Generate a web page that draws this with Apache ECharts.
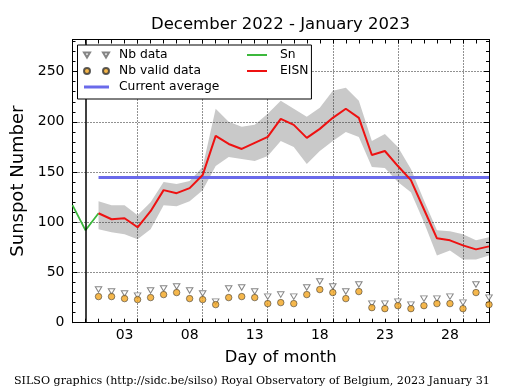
<!DOCTYPE html>
<html><head><meta charset="utf-8">
<script src="https://cdn.jsdelivr.net/npm/echarts@6/dist/echarts.min.js"></script>
<style>html,body{margin:0;padding:0;background:#fff}#c{width:515px;height:390px}</style>
</head><body><div id="c"></div>
<script>
// ---- data ----
const days = [1,2,3,4,5,6,7,8,9,10,11,12,13,14,15,16,17,18,19,20,21,22,23,24,25,26,27,28,29,30,31];
const eisn = [109,103,104,95,111,132,129,134,147,186,178,173,179,185,203,197,184,193,204,213,204,167,171,156,142,113,84,82,77,73,76];
const bandHigh = [121,117,117,107,120,140,138,141,155,213,200,195,197,208,221,213,205,214,231,234,221,181,188,175,153,122,92,91,88,82,85];
const bandLow = [93,90,88,83,93,117,116,121,132,156,165,163,161,166,181,175,158,171,181,190,185,155,154,140,130,100,67,72,63,63,67];
const nbData = [33,31,29,27,32,34,36,32,29,21,34,35,31,26,28,26,35,41,36,31,38,19,19,21,18,24,24,26,20,38,25];
const nbValid = [26,26,24,23,25,28,30,24,23,18,25,26,25,19,20,19,28,33,30,24,31,15,14,17,14,17,19,19,14,30,18];
const snDays = [-1,0,1];
const snValues = [117,92,109];
const avgDays = [1,31];
const avgValue = 144.5;
const monthBoundary = 0;
const xTickDays = [3,8,13,18,23,28];
const xTickLabels = ['03','08','13','18','23','28'];
const yTickLabels = ['0','50','100','150','200','250'];
const xMin = -1, xMax = 31, yMin = 0, yMax = 282;

// ---- styling helpers ----
const FONT = 'DejaVu Sans';
const xSplitColors = [];
for (let d = xMin; d <= xMax; d++) xSplitColors.push(xTickDays.indexOf(d) >= 0 ? '#222' : 'rgba(0,0,0,0)');
const triIcon = 'path://M0,0L6,0L3,5ZM19,0L25,0L22,5Z';
const circIcon = 'path://M0,3a3,3 0 1,0 6,0a3,3 0 1,0 -6,0ZM19,3a3,3 0 1,0 6,0a3,3 0 1,0 -6,0Z';
const lineIcon1 = 'path://M0,0H25V3H0Z';
const lineIcon2 = 'path://M0,0H20V2H0Z';

const chart = echarts.init(document.getElementById('c'), null, {renderer: 'canvas'});
const option = {
  animation: false,
  backgroundColor: '#fff',
  title: [
    {text: 'December 2022 - January 2023', left: 151, top: 16, padding: 0,
     textStyle: {fontFamily: FONT, fontSize: 16.5, fontWeight: 'normal', color: '#000'}},
    {text: 'SILSO graphics (http://sidc.be/silso) Royal Observatory of Belgium, 2023 January 31', left: 14, top: 375.5, padding: 0,
     textStyle: {fontFamily: 'DejaVu Serif', fontSize: 11.1, fontWeight: 'normal', color: '#000'}}
  ],
  legend: [
    {orient: 'vertical', left: 77.5, top: 45, padding: [2, 92, 4, 5.5],
     itemWidth: 25, itemHeight: 6, itemGap: 0, selectedMode: false,
     borderColor: '#000', borderWidth: 1, backgroundColor: '#fff', z: 10,
     textStyle: {fontFamily: FONT, fontSize: 12.3, color: '#000', lineHeight: 16, padding: [0,0,0,5]},
     data: [{name: 'Nb data', icon: triIcon}, {name: 'Nb valid data', icon: circIcon},
            {name: 'Current average', icon: lineIcon1, itemStyle: {color: '#6a6aea', borderWidth: 0}}]},
    {orient: 'vertical', left: 247, top: 47, padding: 0,
     itemWidth: 20, itemHeight: 6, itemGap: 0, selectedMode: false, z: 11,
     textStyle: {fontFamily: FONT, fontSize: 12.3, color: '#000', lineHeight: 16, padding: [0,0,0,8]},
     data: [{name: 'Sn', icon: lineIcon2, itemStyle: {color: '#3cb83c', borderWidth: 0}},
            {name: 'EISN', icon: lineIcon2, itemStyle: {color: '#ee1111', borderWidth: 0}}]}
  ],
  grid: {left: 72.5, right: 26, top: 39.5, bottom: 67.3, containLabel: false, outerBoundsMode: 'none'},
  xAxis: [
    {type: 'value', min: xMin, max: xMax, interval: 1, position: 'bottom', z: 1,
     axisLine: {show: true, onZero: false, lineStyle: {color: '#000', width: 1}},
     axisTick: {show: true, inside: true, length: 4, lineStyle: {color: '#000'}},
     axisLabel: {margin: 6, fontFamily: FONT, fontSize: 14, color: '#000',
       formatter: v => { const i = xTickDays.indexOf(v); return i >= 0 ? xTickLabels[i] : ''; }},
     splitLine: {show: true, showMinLine: false, showMaxLine: false, lineStyle: {color: xSplitColors, type: [1, 2], width: 1}},
     name: 'Day of month', nameLocation: 'middle', nameGap: 27.5,
     nameTextStyle: {fontFamily: FONT, fontSize: 16.4, color: '#000'}},
    {type: 'value', min: xMin, max: xMax, interval: 1, position: 'top', z: 1,
     axisLine: {show: true, onZero: false, lineStyle: {color: '#000', width: 1}},
     axisTick: {show: true, inside: true, length: 4, lineStyle: {color: '#000'}},
     axisLabel: {show: false}, splitLine: {show: false}}
  ],
  yAxis: [
    {type: 'value', min: yMin, max: yMax, interval: 50, position: 'left', z: 1,
     axisLine: {show: true, onZero: false, lineStyle: {color: '#000', width: 1}},
     axisTick: {show: true, inside: true, length: 5, lineStyle: {color: '#000'}},
     minorTick: {show: true, splitNumber: 5, length: 3, lineStyle: {color: '#000'}},
     axisLabel: {margin: 8, fontFamily: FONT, fontSize: 14, color: '#000', showMaxLabel: false,
       formatter: v => { const i = v / 50; return (Number.isInteger(i) && yTickLabels[i] !== undefined) ? yTickLabels[i] : ''; }},
     splitLine: {show: true, showMinLine: false, showMaxLine: false, lineStyle: {color: '#222', type: [1, 2], width: 1}},
     name: 'Sunspot Number', nameLocation: 'middle', nameGap: 35, nameRotate: 90,
     nameTextStyle: {fontFamily: FONT, fontSize: 18, color: '#000'}},
    {type: 'value', min: yMin, max: yMax, interval: 50, position: 'right', z: 1,
     axisLine: {show: true, onZero: false, lineStyle: {color: '#000', width: 1}},
     axisTick: {show: true, inside: true, length: 5, lineStyle: {color: '#000'}},
     minorTick: {show: true, splitNumber: 5, length: 3, lineStyle: {color: '#000'}},
     axisLabel: {show: false}, splitLine: {show: false}}
  ],
  series: [
    {name: 'band', type: 'custom', z: 0, silent: true, xAxisIndex: 0, yAxisIndex: 0,
     data: days.map((d, i) => [d, bandLow[i], bandHigh[i]]),
     encode: {x: 0, y: [1, 2]},
     renderItem: (params, api) => {
       if (params.dataIndex !== 0) return null;
       const pts = [];
       for (let i = 0; i < days.length; i++) pts.push(api.coord([days[i], bandHigh[i]]));
       for (let i = days.length - 1; i >= 0; i--) pts.push(api.coord([days[i], bandLow[i]]));
       return {type: 'polygon', shape: {points: pts}, style: {fill: '#c9c9c9', stroke: null}};
     }},
    {name: 'Current average', type: 'line', z: 3, symbol: 'none', silent: true,
     data: avgDays.map(d => [d, avgValue]),
     lineStyle: {color: '#6a6aea', width: 3}, itemStyle: {color: '#6a6aea'}},
    {name: 'Sn', type: 'line', z: 3, symbol: 'none', silent: true,
     data: snDays.map((d, i) => [d, snValues[i]]),
     lineStyle: {color: '#3cb83c', width: 1.8}, itemStyle: {color: '#3cb83c'},
     markLine: {silent: true, symbol: 'none', label: {show: false}, animation: false,
       lineStyle: {color: '#000', width: 1.5, type: 'solid'}, data: [{xAxis: monthBoundary}]}},
    {name: 'EISN', type: 'line', z: 4, symbol: 'none', silent: true,
     data: days.map((d, i) => [d, eisn[i]]),
     lineStyle: {color: '#ee1111', width: 2}, itemStyle: {color: '#ee1111'}},
    {name: 'Nb data', type: 'scatter', z: 5, silent: true,
     symbol: 'triangle', symbolRotate: 180, symbolSize: [6.5, 5.5],
     data: days.map((d, i) => [d, nbData[i]]),
     itemStyle: {color: '#ffffff', borderColor: '#666', borderWidth: 1}},
    {name: 'Nb valid data', type: 'scatter', z: 6, silent: true,
     symbol: 'circle', symbolSize: 6.5,
     data: days.map((d, i) => [d, nbValid[i]]),
     itemStyle: {color: '#f2a51f', borderColor: '#333', borderWidth: 0.7}}
  ]
};
chart.setOption(option);
</script>
</body></html>
